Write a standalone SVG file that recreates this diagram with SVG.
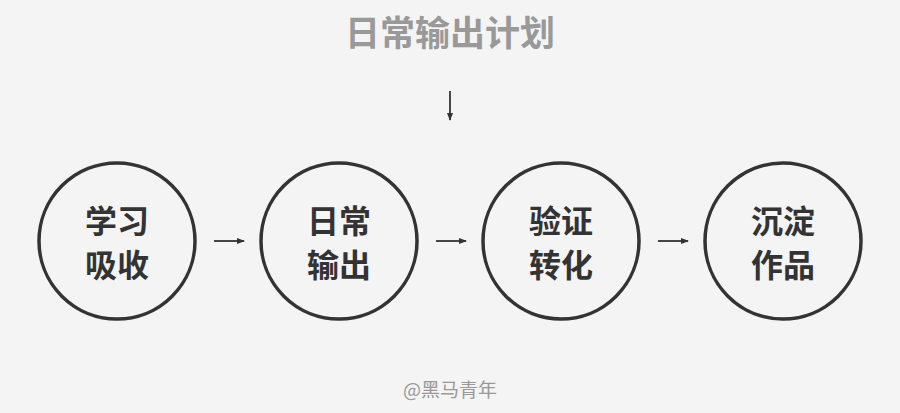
<svg xmlns="http://www.w3.org/2000/svg" width="900" height="413" viewBox="0 0 900 413">
<style>
.node circle{fill:none;stroke:#333;stroke-width:3.5}
.node text{font-family:"Noto Sans CJK SC",sans-serif;font-weight:bold;font-size:32px;fill:#333;text-anchor:middle}
.conn line{stroke:#333;stroke-width:1.8}
.title{font-family:"Noto Sans CJK SC",sans-serif;font-weight:bold;font-size:35px;fill:#999;text-anchor:middle}
.wm{font-family:"Noto Sans CJK SC",sans-serif;font-size:19px;fill:#999;text-anchor:middle}
</style>
<defs>
<marker id="ah" viewBox="0 0 8 8" refX="7" refY="4" markerWidth="8" markerHeight="8" orient="auto" markerUnits="userSpaceOnUse">
<path d="M0,1 L8,4 L0,7 Z" fill="#333"/>
</marker>
</defs>
<rect width="900" height="413" fill="#f4f4f4"/>
<text class="title" x="450" y="46">日常输出计划</text>
<g class="conn">
<line x1="450" y1="91" x2="450" y2="120" marker-end="url(#ah)"/>
<line x1="214" y1="241" x2="244" y2="241" marker-end="url(#ah)"/>
<line x1="436" y1="241" x2="466" y2="241" marker-end="url(#ah)"/>
<line x1="658" y1="241" x2="688" y2="241" marker-end="url(#ah)"/>
</g>
<g id="n1" class="node"><circle cx="117" cy="241" r="78"/><text x="117" y="233">学习</text><text x="117" y="277">吸收</text></g>
<g id="n2" class="node"><circle cx="339" cy="241" r="78"/><text x="339" y="233">日常</text><text x="339" y="277">输出</text></g>
<g id="n3" class="node"><circle cx="561" cy="241" r="78"/><text x="561" y="233">验证</text><text x="561" y="277">转化</text></g>
<g id="n4" class="node"><circle cx="783" cy="241" r="78"/><text x="783" y="233">沉淀</text><text x="783" y="277">作品</text></g>
<text class="wm" x="450" y="397">@黑马青年</text>
</svg>
